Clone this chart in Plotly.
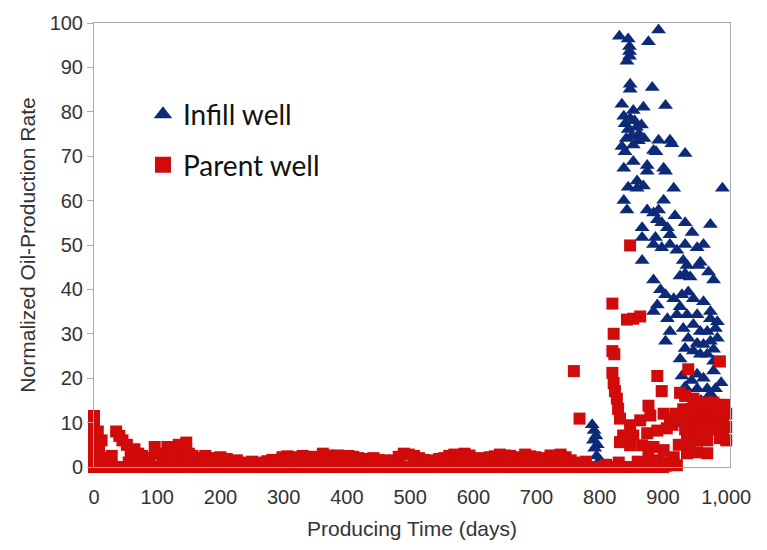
import plotly.graph_objects as go

# ---------------- data ----------------
infill_days = [
    788, 791, 794, 790, 796, 792, 795, 800, 806, 812,
    831, 845, 847, 847, 847, 843, 877, 893,
    848, 848, 883,
    835, 853, 869, 904,
    840, 838, 848, 855, 845, 858, 850, 862, 842, 866, 853, 840, 870,
    893, 911,
    835, 861, 889, 914, 935, 885,
    838, 853, 875, 875, 901, 904,
    859, 859, 869, 917, 994, 845, 838,
    901, 843, 875, 885, 893, 891, 898, 919, 935, 975,
    867, 907, 867, 888, 911, 946,
    885, 898, 911, 935, 954, 964, 922,
    867, 932, 959,
    938, 956, 927, 935, 943, 885, 972, 980,
    896, 904, 917, 930, 940, 948, 964, 891, 927, 975, 885,
    907, 922, 938, 954, 975, 986,
    911, 932, 948, 959, 970, 983,
    904, 940, 954, 964, 975, 986,
    935, 948, 980, 959, 970, 927, 980,
    930, 954, 964, 980, 988,
    954, 970, 983, 925, 998, 990, 960, 975, 935, 945, 992,
]
infill_rate = [
    9.5, 8.2, 7.0, 6.0, 5.0, 4.2, 2.5, 1.5, 0.5, 0.3,
    97.0, 96.4, 94.7, 93.6, 92.5, 91.4, 95.8, 98.4,
    86.2, 85.1, 85.5,
    81.7, 80.3, 81.0, 81.4,
    77.3, 79.0, 78.5, 78.0, 76.0, 76.5, 74.5, 75.0, 74.0, 77.0, 72.5, 71.0, 74.0,
    73.6, 73.6,
    72.2, 73.5, 71.0, 72.8, 70.6, 71.3,
    67.3, 68.8, 67.9, 66.6, 67.3, 66.6,
    64.4, 62.8, 63.3, 62.8, 62.8, 63.0, 60.0,
    60.1, 57.9, 57.9, 57.2, 57.9, 55.7, 55.0, 56.6, 55.0, 54.6,
    53.9, 53.9, 51.7, 51.7, 52.3, 52.8,
    50.1, 49.4, 50.1, 50.1, 49.4, 50.1, 48.8,
    46.5, 46.5, 46.1,
    45.4, 45.4, 43.0, 43.5, 42.8, 42.1, 43.9, 42.1,
    39.9, 38.8, 37.9, 38.8, 39.4, 37.9, 37.2, 36.5, 36.1, 35.0, 35.0,
    33.4, 34.3, 34.3, 34.3, 33.4, 32.7,
    30.5, 31.2, 32.1, 30.5, 30.5, 31.2,
    28.3, 29.0, 27.8, 27.6, 28.3, 29.0,
    26.7, 26.1, 26.5, 25.4, 25.4, 24.3, 23.8,
    20.5, 20.9, 20.0, 21.6, 23.2,
    17.6, 17.6, 17.6, 9.8, 6.7, 12.0, 15.0, 16.5, 18.0, 19.5, 19.0,
]

parent_days = [
    # early decline
    0, 0, 0, 0, 0, 0, 6, 8, 12, 14, 18, 28,
    35, 40, 45, 52, 58, 55, 64, 70, 76, 66,
    88, 96, 100, 108, 116, 120, 126, 134, 140, 146, 150, 156,
    140, 162, 168, 176, 184, 192, 200, 210, 218, 226, 234, 242, 250, 258,
    266, 274, 282, 290, 298, 306, 314, 322, 330, 338, 346, 354, 362, 370,
    378, 386, 394, 402, 410, 418, 426, 434, 442, 450, 458, 466, 474, 482,
    490, 498, 506, 514, 522, 530, 538, 546, 554, 562, 570, 578, 586, 594,
    602, 610, 618, 626, 634, 642, 650, 658, 666, 674, 682, 690, 698, 706,
    714, 722, 730, 738, 746, 754, 762, 770, 778,
    # baseline
    0, 10, 20, 30, 40, 50, 60, 70, 80, 90, 100, 110, 120, 130, 140, 150,
    160, 170, 180, 190, 200, 210, 220, 230, 240, 250, 260, 270, 280, 290,
    300, 310, 320, 330, 340, 350, 360, 370, 380, 390, 400, 410, 420, 430,
    440, 450, 460, 470, 480, 490, 500, 510, 520, 530, 540, 550, 560, 570,
    580, 590, 600, 610, 620, 630, 640, 650, 660, 670, 680, 690, 700, 710,
    720, 730, 740, 750, 760, 770, 780, 790, 800, 810, 820, 830, 840, 850,
    860, 870, 880, 890, 900, 910,
    810, 830, 860, 875, 890, 905,
    # late scatter
    759, 768,
    820, 822, 820, 823, 820, 822, 824, 827, 829, 832, 837, 832,
    848, 843, 853, 864,
    891, 940, 990,
    898, 877, 927, 935, 948,
    959, 970, 980, 990,
    932, 943, 954, 965, 975, 985,
    930, 945, 955, 968, 985, 995,
    935, 950, 965, 980, 995,
    938, 954, 970, 990,
    954, 970, 938,
    848, 864, 880, 901, 911,
    853, 875, 891, 906,
    848, 867, 885, 901, 877, 917, 907, 922,
    915, 925, 945, 960, 975, 985, 1000, 1000, 1000, 920, 942, 998,
]
parent_rate = [
    11.5, 9.5, 7.5, 5.5, 3.5, 1.5, 8.0, 4.0, 6.0, 2.0, 1.5, 2.5,
    8.0, 7.0, 6.0, 5.0, 3.5, 1.0, 4.0, 3.0, 2.5, 1.2,
    2.0, 4.5, 3.0, 2.0, 4.5, 3.5, 2.5, 5.0, 4.0, 5.5, 3.0, 2.5,
    1.5, 2.0, 1.2, 2.5, 2.0, 1.5, 2.2, 1.8, 1.2, 1.5, 1.0, 0.8, 1.2, 0.8,
    1.0, 1.3, 1.6, 1.5, 2.2, 2.4, 2.0, 2.2, 2.5, 1.8, 2.3, 2.0, 3.0, 2.6,
    1.5, 2.6, 2.4, 2.5, 2.3, 2.0, 1.8, 1.5, 2.0, 1.6, 1.5, 1.2, 1.5, 2.3,
    3.0, 2.8, 2.5, 2.0, 1.6, 1.2, 1.5, 1.8, 2.0, 2.5, 2.8, 2.2, 3.0, 2.6,
    1.8, 2.0, 1.6, 2.2, 2.4, 2.8, 2.6, 2.5, 2.2, 1.6, 2.8, 2.4, 2.2, 1.8,
    2.0, 2.6, 2.4, 2.8, 2.2, 1.5, 1.0, 0.8, 1.2,
    0, 0, 0, 0, 0, 0, 0, 0, 0, 0, 0, 0, 0, 0, 0, 0,
    0, 0, 0, 0, 0, 0, 0, 0, 0, 0, 0, 0, 0, 0,
    0, 0, 0, 0, 0, 0, 0, 0, 0, 0, 0, 0, 0, 0,
    0, 0, 0, 0, 0, 0, 0, 0, 0, 0, 0, 0, 0, 0,
    0, 0, 0, 0, 0, 0, 0, 0, 0, 0, 0, 0, 0, 0,
    0, 0, 0, 0, 0, 0, 0, 0, 0, 0, 0, 0, 0, 0,
    0, 0, 0, 0, 0, 0.5,
    0.5, 1.0, 1.2, 0.5, 1.5, 0.3,
    21.6, 10.9,
    36.8, 30.0, 26.1, 25.4, 21.2, 18.9, 17.1, 15.4, 13.1, 10.9, 7.1, 5.6,
    49.9, 33.2, 33.4, 33.9,
    20.5, 22.0, 23.8,
    17.1, 13.8, 16.7, 16.0, 15.4,
    14.5, 14.5, 14.5, 14.0,
    13.0, 13.0, 13.0, 13.0, 13.0, 12.5,
    11.0, 11.0, 11.5, 11.0, 11.0, 10.0,
    8.5, 8.0, 8.0, 8.5, 7.5,
    6.5, 6.0, 6.0, 6.5,
    3.3, 3.1, 3.1,
    9.4, 10.5, 11.6, 12.0, 10.9,
    7.1, 7.6, 8.2, 8.7,
    4.9, 4.9, 4.5, 3.8, 2.7, 2.2, 1.1, 0.4,
    9.5, 5.0, 9.5, 9.5, 10.0, 9.0, 12.0, 9.0, 6.0, 12.0, 4.5, 14.0,
]

x_ticks = [0, 100, 200, 300, 400, 500, 600, 700, 800, 900, 1000]
x_tick_text = ["0", "100", "200", "300", "400", "500", "600", "700", "800", "900", "1,000"]
y_ticks = [0, 10, 20, 30, 40, 50, 60, 70, 80, 90, 100]

BLUE = "#0d2a78"
RED = "#d10a0a"

fig = go.Figure()
fig.add_trace(go.Scatter(
    x=infill_days, y=infill_rate, mode="markers", name="Infill well",
    marker=dict(symbol="triangle-up", size=13, color=BLUE, line=dict(width=0)),
    cliponaxis=False, showlegend=False,
))
fig.add_trace(go.Scatter(
    x=parent_days, y=parent_rate, mode="markers", name="Parent well",
    marker=dict(symbol="square", size=12, color=RED, line=dict(width=0)),
    cliponaxis=False, showlegend=False,
))
# legend-only entries
fig.add_trace(go.Scatter(
    x=[None], y=[None], mode="markers", name="Infill well", legendgroup="a",
    marker=dict(symbol="triangle-up", size=16, color=BLUE),
))
fig.add_trace(go.Scatter(
    x=[None], y=[None], mode="markers", name="Parent well", legendgroup="b",
    marker=dict(symbol="square", size=16, color=RED),
))

FONT = "Liberation Sans, Arial, sans-serif"
axis_font = dict(family=FONT, size=20, color="#333333")
title_font = dict(family=FONT, size=21, color="#333333")

fig.update_layout(
    width=767, height=550,
    margin=dict(l=94, r=37, t=18, b=83),
    paper_bgcolor="white", plot_bgcolor="white",
    showlegend=True,
    legend=dict(
        x=0.077, y=0.85, xanchor="left", yanchor="top",
        bgcolor="rgba(0,0,0,0)",
        font=dict(family="Lato, Noto Sans, sans-serif", size=28, color="#111111"),
        traceorder="grouped", tracegroupgap=11,
        itemsizing="trace",
    ),
    xaxis=dict(
        range=[0, 1006], tickvals=x_ticks, ticktext=x_tick_text,
        showgrid=False, zeroline=False,
        showline=True, mirror=True, linecolor="#aaaaaa", linewidth=1,
        ticks="outside", ticklen=12, tickcolor="rgba(0,0,0,0)",
        tickfont=axis_font,
        title=dict(text="Producing Time (days)", font=title_font, standoff=14),
    ),
    yaxis=dict(
        range=[0, 100], tickvals=y_ticks,
        showgrid=False, zeroline=False,
        showline=True, mirror=True, linecolor="#aaaaaa", linewidth=1,
        ticks="outside", ticklen=6, tickcolor="#aaaaaa",
        tickfont=axis_font,
        title=dict(text="Normalized Oil-Production Rate", font=title_font, standoff=8),
    ),
)

fig.write_html("out.html")
